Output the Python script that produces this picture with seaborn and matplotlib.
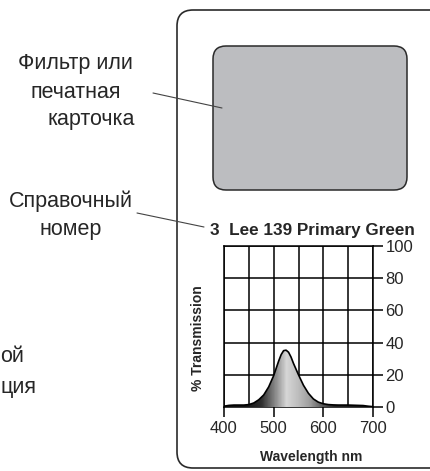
import numpy as np
import pandas as pd
import seaborn as sns
import matplotlib.pyplot as plt
from matplotlib.patches import FancyBboxPatch
from matplotlib.colors import LinearSegmentedColormap

# spectral data
wavelength = [400, 410, 420, 430, 440, 450, 460, 470, 480, 490, 500, 505, 510, 515, 520,
              525, 530, 535, 540, 550, 560, 570, 580, 590, 600, 610, 620, 630, 640, 650,
              660, 670, 680, 690, 700]
transmission = [0.5, 1.0, 1.2, 1.2, 1.2, 1.5, 2.5, 4.5, 7.5, 12.5, 19.5, 24, 28.5, 32.5, 35,
                 35.3, 34, 31, 27, 20, 13.5, 8.5, 5, 3, 2, 1.5, 1.3, 1.2, 1.2, 1.2,
                 1.1, 1.0, 0.9, 0.5, 0.2]
title = "3  Lee 139 Primary Green"
x_ticks = [400, 500, 600, 700]
y_ticks = [0, 20, 40, 60, 80, 100]

df = pd.DataFrame({"wl": wavelength, "t": transmission})

sns.set_style("white")
plt.rcParams['font.family'] = ['Liberation Sans', 'DejaVu Sans']

W, H = 430, 471
fig = plt.figure(figsize=(W / 100, H / 100), dpi=100)

# background layer in pixel coordinates
bg = fig.add_axes([0, 0, 1, 1])
bg.set_xlim(0, W)
bg.set_ylim(H, 0)
bg.axis("off")

card = FancyBboxPatch((177, 10), 300, 458, boxstyle="round,pad=0,rounding_size=16",
                      fc="white", ec="#2a2a2a", lw=1.2)
bg.add_patch(card)
swatch = FancyBboxPatch((213, 46), 194, 144, boxstyle="round,pad=0,rounding_size=13",
                        fc="#bcbdc0", ec="#2a2a2a", lw=1.1)
bg.add_patch(swatch)

bg.plot([153, 222], [93, 108], color="#444444", lw=0.8)
bg.plot([137, 204], [213, 227], color="#444444", lw=0.8)

fs = 15.5
bg.text(133, 64, "Фильтр или", ha="right", va="center", fontsize=fs)
bg.text(76, 92, "печатная", ha="center", va="center", fontsize=fs)
bg.text(135, 119, "карточка", ha="right", va="center", fontsize=fs)
bg.text(133, 201, "Справочный", ha="right", va="center", fontsize=fs)
bg.text(71, 229, "номер", ha="center", va="center", fontsize=fs)
bg.text(0, 357, "ой", ha="left", va="center", fontsize=fs)
bg.text(0, 387, "ция", ha="left", va="center", fontsize=fs)

bg.text(210, 231, title, ha="left", va="center", fontsize=12.3, fontweight="bold")

# transmission chart
x0, x1, ytop, ybot = 224, 373, 246, 407
ax = fig.add_axes([x0 / W, 1 - ybot / H, (x1 - x0) / W, (ybot - ytop) / H])
ax.set_facecolor("none")

sns.lineplot(data=df, x="wl", y="t", color="black", lw=1.2, ax=ax, zorder=4)

# gradient fill under the curve
cmap = LinearSegmentedColormap.from_list(
    "g", [(0.0, "#111111"), (0.13, "#111111"), (0.25, "#2e2e2e"), (0.36, "#9a9a9a"),
          (0.42, "#d6d6d6"), (0.5, "#bdbdbd"), (0.58, "#9c9c9c"), (0.66, "#5a5a5a"),
          (0.75, "#222222"), (1.0, "#111111")])
grad = np.linspace(0, 1, 300).reshape(1, -1)
im = ax.imshow(grad, extent=[400, 700, 0, 40], aspect="auto", cmap=cmap, zorder=3)
poly = ax.fill_between(df["wl"], 0, df["t"], color="none", lw=0)
im.set_clip_path(poly.get_paths()[0], transform=ax.transData)

ax.set_xlim(400, 700)
ax.set_ylim(0, 100)
ax.set_xticks(x_ticks)
ax.set_xticks([450, 550, 650], minor=True)
ax.set_yticks(y_ticks)
ax.grid(True, which="both", color="black", lw=1.1)
ax.set_axisbelow(True)
ax.tick_params(axis="x", which="major", direction="out", length=7, width=1.1,
               color="black", labelsize=12, pad=3, bottom=True)
ax.tick_params(axis="x", which="minor", length=0)
ax.yaxis.tick_right()
ax.tick_params(axis="y", direction="out", length=7, width=1.1, color="black",
               labelsize=12, pad=2, right=True, left=False)
ax.yaxis.set_label_position("left")
for s in ax.spines.values():
    s.set_color("black")
    s.set_linewidth(1.1)
ax.set_xlabel("Wavelength nm", fontsize=10, fontweight="bold")
ax.set_ylabel("% Transmission", fontsize=10, fontweight="bold")
ax.xaxis.set_label_coords(0.584, -0.27)
ax.yaxis.set_label_coords(-0.125, 0.43)

fig.savefig("out.png", dpi=100)
